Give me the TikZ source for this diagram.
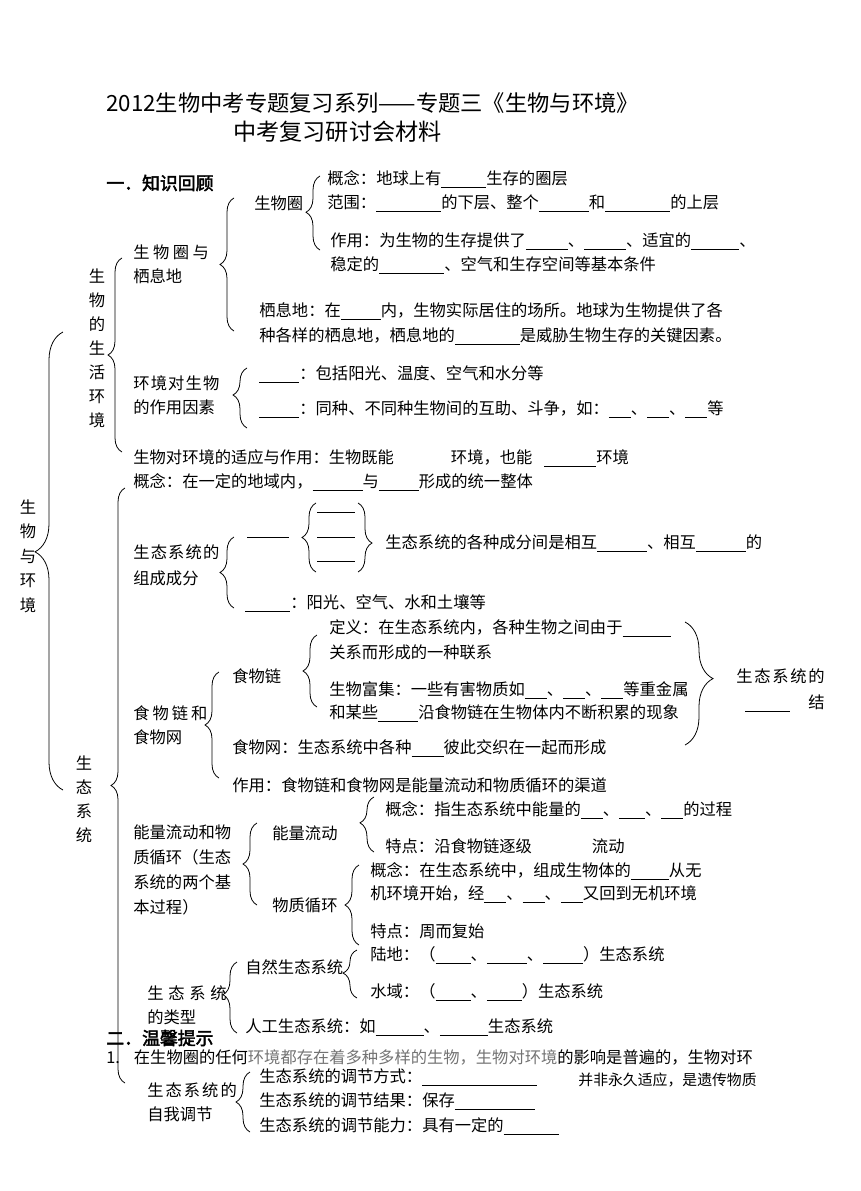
\documentclass[tikz,border=0pt]{standalone}
\usepackage{fontspec}
\newfontfamily\cjk[AutoFakeBold=2.5]{Noto Sans CJK SC}
\usetikzlibrary{decorations.pathreplacing}
\newdimen\px \px=0.7pt
\newcommand\bl[1]{\rule[-2pt]{#1\px}{0.5pt}}
\newcommand\fs[1]{\cjk\fontsize{11.4pt}{#1}\selectfont}
\makeatletter
\newcommand\spr[2]{\@tfor\ch:=#2\do{\ch\hskip#1\relax}\unskip}
\makeatother

\begin{document}
\begin{tikzpicture}[x=0.7pt,y=-0.7pt,font=\fs{16.8pt},line width=0.55pt,
  t/.style={anchor=west,inner sep=0pt},
  m/.style={anchor=west,inner sep=0pt,align=left},
  v/.style={inner sep=0pt,align=center},
  br/.style={decorate,decoration={brace,amplitude=#1}},
  br/.default=9.8pt]

  \useasboundingbox (0,0) rectangle (860,1191);

  % title
  \node[t,font=\cjk\fontsize{15.6pt}{18pt}\selectfont] (title1) at (106,103) {2012生物中考专题复习系列——专题三《生物与环境》};
  \node[t,font=\cjk\fontsize{16.2pt}{18pt}\selectfont] (title2) at (233,132) {中考复习研讨会材料};
  \node[t,font=\cjk\bfseries\fontsize{12.5pt}{15pt}\selectfont] (part1) at (106,183) {一．知识回顾};

  % vertical labels
  \node[v,font=\fs{17.15pt}] (root) at (28,556) {生\\物\\与\\环\\境};
  \node[v] (life) at (97,348) {生\\物\\的\\生\\活\\环\\境};
  \node[v] (eco) at (84,799) {生\\态\\系\\统};

  % living environment
  \node[m] (bsh) at (133,264) {\spr{2.4pt}{生物圈与}\\栖息地};
  \node[t] (bsph) at (254,203) {生物圈};
  \node[t] (bs1) at (327,179) {概念：地球上有\bl{45}生存的圈层};
  \node[t] (bs2) at (327,203) {范围：\bl{65}的下层、整个\bl{50}和\bl{65}的上层};
  \node[t] (bs3) at (330,241) {作用：为生物的生存提供了\bl{42}、\bl{42}、适宜的\bl{48}、};
  \node[t] (bs4) at (330,265) {稳定的\bl{65}、空气和生存空间等基本条件};
  \node[t] (hab1) at (259,311) {栖息地：在\bl{40}内，生物实际居住的场所。地球为生物提供了各};
  \node[t] (hab2) at (259,336) {种各样的栖息地，栖息地的\bl{65}是威胁生物生存的关键因素。};
  \node[m] (fac) at (133,395) {\spr{0.8pt}{环境对生物}\\的作用因素};
  \node[t] (fac1) at (259,374) {\bl{40}：包括阳光、温度、空气和水分等};
  \node[t] (fac2) at (259,409) {\bl{40}：同种、不同种生物间的互助、斗争，如：\bl{22}、\bl{22}、\bl{22}等};
  \node[t] (adp) at (133,458) {生物对环境的适应与作用：生物既能\hspace{57\px}环境，也能\hspace{12\px}\bl{52}环境};

  % ecosystem
  \node[t] (ec0) at (133,482) {概念：在一定的地域内，\bl{50}与\bl{40}形成的统一整体};
  \node[m,font=\fs{18.2pt}] (comp) at (133,565) {\spr{0.8pt}{生态系统的}\\组成成分};
  \node[t] (bio) at (247,537) {\rule{42\px}{0.6pt}};
  \node[t] (pro) at (317,512) {\rule{38\px}{0.6pt}};
  \node[t] (con) at (317,537) {\rule{38\px}{0.6pt}};
  \node[t] (dec) at (317,561) {\rule{38\px}{0.6pt}};
  \node[t] (rel) at (385,543) {生态系统的各种成分间是相互\bl{50}、相互\bl{50}的};
  \node[t] (abio) at (245,603) {\bl{45}：阳光、空气、水和土壤等};

  \node[m] (fw) at (133,725) {\spr{2.1pt}{食物链和}\\食物网};
  \node[t] (fch) at (232,676) {食物链};
  \node[t] (fc1) at (329,628) {定义：在生态系统内，各种生物之间由于\bl{48}};
  \node[t] (fc2) at (329,652) {关系而形成的一种联系};
  \node[t] (fc3) at (329,690) {生物富集：一些有害物质如\bl{22}、\bl{22}、\bl{22}等重金属};
  \node[t] (fc4) at (329,713) {和某些\bl{40}沿食物链在生物体内不断积累的现象};
  \node[t] (fwb) at (232,748) {食物网：生态系统中各种\bl{32}彼此交织在一起而形成};
  \node[t] (fwu) at (232,785) {作用：食物链和食物网是能量流动和物质循环的渠道};
  \node[t] (stru) at (736,676) {\spr{1.2pt}{生态系统的}};
  \node[t] (stru2) at (745,703) {\bl{45}\hspace{18\px}结};

  \node[m,font=\fs{17.5pt}] (flow) at (133,870) {能量流动和物\\质循环（生态\\系统的两个基\\本过程）};
  \node[t] (ene) at (272,833) {能量流动};
  \node[t] (en1) at (385,810) {概念：指生态系统中能量的\bl{22}、\bl{26}、\bl{22}的过程};
  \node[t] (en2) at (385,846) {特点：沿食物链逐级\hspace{60\px}流动};
  \node[t] (mat) at (272,905) {物质循环};
  \node[t] (ma1) at (370,871) {概念：在生态系统中，组成生物体的\bl{38}从无};
  \node[t] (ma2) at (370,894) {机环境开始，经\bl{22}、\bl{22}、\bl{22}又回到无机环境};
  \node[t] (ma3) at (370,931) {特点：周而复始};

  \node[m] (kind) at (147,1005) {\spr{3.3pt}{生态系统}\\的类型};
  \node[t] (nat) at (245,967) {自然生态系统};
  \node[t] (nat1) at (370,955) {陆地：（\bl{35}、\bl{40}、\bl{40}）生态系统};
  \node[t] (nat2) at (370,992) {水域：（\bl{35}、\bl{35}）生态系统};
  \node[t] (art) at (245,1027) {人工生态系统：如\bl{48}、\bl{48}生态系统};

  % tips, partly covered
  \node[t,font=\cjk\bfseries\fontsize{12.5pt}{15pt}\selectfont] (part2) at (106,1038) {二．温馨提示};
  \node[t] (tip1) at (106,1057) {1.\hspace{14\px}在生物圈的任何{\color{black!55}环境都存在着多种多样的生物，生物对环境}的影响是普遍的，生物对环};
  \node[t,font=\cjk\fontsize{10.4pt}{14pt}\selectfont] (tip2) at (578,1080) {并非永久适应，是遗传物质};

  \node[m] (reg) at (147,1102) {\spr{1.4pt}{生态系统的}\\自我调节};
  \node[t] (rg1) at (259,1077) {生态系统的调节方式：\bl{115}};
  \node[t] (rg2) at (259,1101) {生态系统的调节结果：保存\bl{80}};
  \node[t] (rg3) at (259,1126) {生态系统的调节能力：具有一定的\bl{55}};

  % left braces, bottom to top
  \draw[br=19.6pt,decoration={aspect=0.52}] (63,790) -- (63,332);
  \draw[br] (122,452) -- (122,258);
  \draw[br] (125,1083) -- (125,488);
  \draw[br] (234,331) -- (234,198);
  \draw[br,decoration={aspect=0.51}] (320,250) -- (320,176);
  \draw[br,decoration={aspect=0.55}] (247,428) -- (247,368);
  \draw[br] (234,608) -- (234,537);
  \draw[br] (316,572) -- (316,503);
  \draw[br] (219,778) -- (219,672);
  \draw[br] (317,707) -- (317,635);
  \draw[br] (257,905) -- (257,823);
  \draw[br,decoration={aspect=0.53}] (374,852) -- (374,797);
  \draw[br] (359,945) -- (359,865);
  \draw[br,decoration={aspect=0.54}] (237,1033) -- (237,962);
  \draw[br,decoration={aspect=0.52}] (357,998) -- (357,950);
  \draw[br] (250,1132) -- (250,1072);
  % right braces, top to bottom
  \draw[br,decoration={aspect=0.58}] (358,503) -- (358,572);
  \draw[br=19.6pt,decoration={aspect=0.46}] (685,622) -- (685,745);
\end{tikzpicture}
\end{document}
